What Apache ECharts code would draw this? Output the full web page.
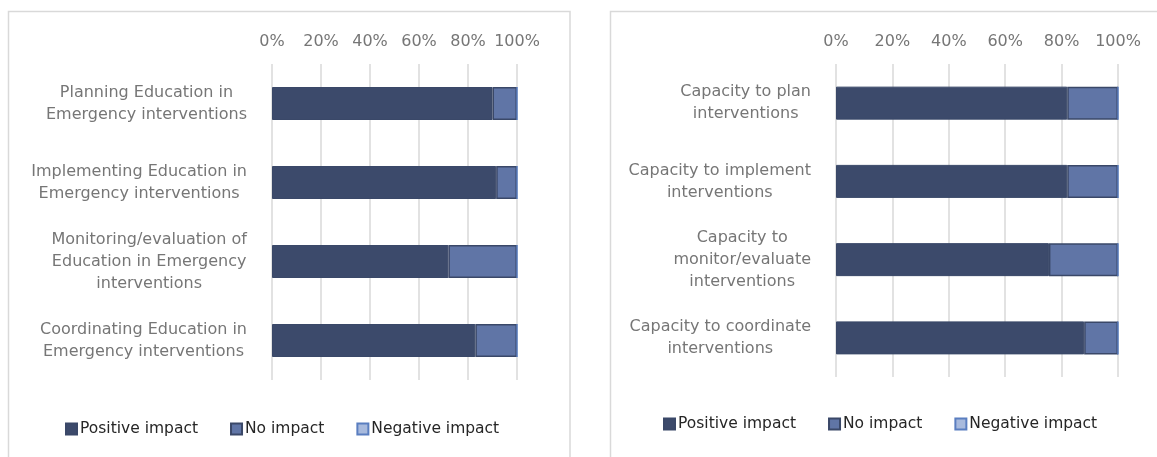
<!DOCTYPE html>
<html>
<head>
<meta charset="utf-8">
<script src="https://cdn.jsdelivr.net/npm/echarts@6/dist/echarts.min.js"></script>
<style>
  html, body { margin: 0; padding: 0; background: #ffffff; }
  #chart { width: 1157px; height: 457px; }
</style>
</head>
<body>
<div id="chart"></div>
<script>
// Category labels (line breaks as they wrap on the page)
const leftCategories = [
  'Planning Education in\nEmergency interventions',
  'Implementing Education in\nEmergency interventions',
  'Monitoring/evaluation of\nEducation in Emergency\ninterventions',
  'Coordinating Education in\nEmergency interventions'
];
const rightCategories = [
  'Capacity to plan\ninterventions',
  'Capacity to implement\ninterventions',
  'Capacity to\nmonitor/evaluate\ninterventions',
  'Capacity to coordinate\ninterventions'
];

// Shares of respondents (%)
const leftPositive = [90, 91.5, 72, 83];
const leftNoImpact = [10, 8.5, 28, 17];
const leftNegative = [0, 0, 0, 0];

const rightPositive = [82, 82, 75.5, 88];
const rightNoImpact = [18, 18, 24.5, 12];
const rightNegative = [0, 0, 0, 0];

const seriesNames = ['Positive impact', 'No impact', 'Negative impact'];
const tickValues = [0, 20, 40, 60, 80, 100];

const FONT = 'DejaVu Sans';
const LABEL_GREY = '#767676';

const styles = {
  'Positive impact': { color: '#3c4a6b', borderColor: '#3a4868', borderWidth: 1 },
  'No impact': { color: '#6075a6', borderColor: '#3a4868', borderWidth: 1.5 },
  'Negative impact': { color: '#a8badd', borderColor: '#5a7ec0', borderWidth: 1.5 }
};

function valueAxis(gridIndex) {
  return {
    gridIndex: gridIndex,
    type: 'value',
    position: 'top',
    min: tickValues[0],
    max: tickValues[tickValues.length - 1],
    interval: tickValues[1] - tickValues[0],
    axisLine: { show: false },
    axisTick: { show: false },
    splitLine: { show: true, lineStyle: { color: '#d9d9d9', width: 1.5 } },
    axisLabel: {
      formatter: '{value}%',
      color: LABEL_GREY,
      fontFamily: FONT,
      fontSize: 16,
      margin: 14
    }
  };
}

// Multi-line category labels: block right-aligned, lines centred inside it
function categoryAxis(gridIndex, cats) {
  return {
    gridIndex: gridIndex,
    type: 'category',
    data: cats,
    inverse: true,
    axisLine: { show: false },
    axisTick: { show: false },
    splitLine: { show: false },
    axisLabel: {
      margin: 25,
      align: 'right',
      formatter: function (v) {
        return v.split('\n').map(function (l) { return '{c|' + l + '}'; }).join('\n');
      },
      rich: {
        c: {
          align: 'center',
          color: LABEL_GREY,
          fontFamily: FONT,
          fontSize: 16,
          lineHeight: 22
        }
      }
    }
  };
}

function barSeries(name, data, axisIndex) {
  return {
    name: name,
    type: 'bar',
    stack: 'total' + axisIndex,
    xAxisIndex: axisIndex,
    yAxisIndex: axisIndex,
    barWidth: 33,
    data: data,
    itemStyle: styles[name],
    emphasis: { disabled: true }
  };
}

function legendAt(left, top) {
  return {
    data: seriesNames,
    left: left,
    top: top,
    padding: 0,
    icon: 'rect',
    itemWidth: 11,
    itemHeight: 11,
    itemGap: 32,
    selectedMode: false,
    textStyle: { color: '#262626', fontFamily: FONT, fontSize: 15.5, padding: [0, 0, 0, -2] }
  };
}

const chart = echarts.init(document.getElementById('chart'), null, { renderer: 'canvas' });

chart.setOption({
  animation: false,
  backgroundColor: '#ffffff',
  graphic: [
    { type: 'rect', shape: { x: 8.5, y: 11.5, width: 561.5, height: 460 },
      style: { fill: 'none', stroke: '#d9d9d9', lineWidth: 1.5 }, silent: true },
    { type: 'rect', shape: { x: 610.5, y: 11.5, width: 560, height: 460 },
      style: { fill: 'none', stroke: '#d9d9d9', lineWidth: 1.5 }, silent: true }
  ],
  grid: [
    { left: 272, top: 64, width: 245, height: 316 },
    { left: 836, top: 64, width: 282, height: 313 }
  ],
  xAxis: [valueAxis(0), valueAxis(1)],
  yAxis: [categoryAxis(0, leftCategories), categoryAxis(1, rightCategories)],
  legend: [legendAt(65, 421), legendAt(663, 416)],
  series: [
    barSeries(seriesNames[0], leftPositive, 0),
    barSeries(seriesNames[1], leftNoImpact, 0),
    barSeries(seriesNames[2], leftNegative, 0),
    barSeries(seriesNames[0], rightPositive, 1),
    barSeries(seriesNames[1], rightNoImpact, 1),
    barSeries(seriesNames[2], rightNegative, 1)
  ]
});
</script>
</body>
</html>
